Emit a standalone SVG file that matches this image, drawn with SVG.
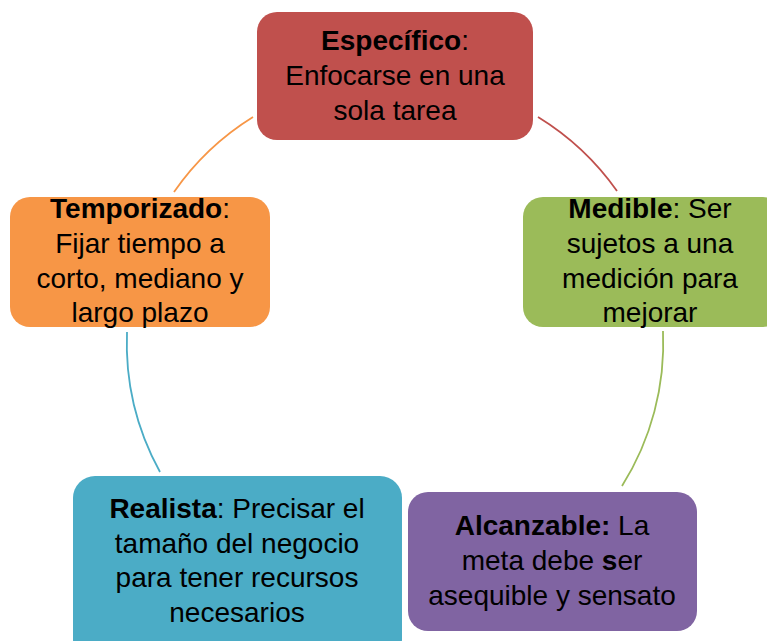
<svg xmlns="http://www.w3.org/2000/svg" width="767" height="641" viewBox="0 0 767 641">
<style>
.t{font-family:"Liberation Sans",Arial,sans-serif;font-size:28px;fill:#000;text-anchor:middle}
.b{font-weight:bold}
.arc{fill:none;stroke-width:1.8}
</style>
<rect width="767" height="641" fill="#fff"/>
<g id="connectors">
<path class="arc" stroke="#C0504D" d="M 538 117 A 268 268 0 0 1 617 191"/>
<path class="arc" stroke="#9BBB59" d="M 663 331 A 268 268 0 0 1 622 486"/>
<path class="arc" stroke="#4BACC6" d="M 160 472 A 268 268 0 0 1 127 332"/>
<path class="arc" stroke="#F79646" d="M 174 192 A 268 268 0 0 1 253 117"/>
</g>
<g id="especifico">
<rect x="257" y="12" width="276" height="128" rx="20" fill="#C0504D"/>
<text class="t" x="395" y="50"><tspan class="b">Específico</tspan>:</text>
<text class="t" x="395" y="85">Enfocarse en una</text>
<text class="t" x="395" y="120">sola tarea</text>
</g>
<g id="medible">
<rect x="523" y="197" width="260" height="130" rx="20" fill="#9BBB59"/>
<text class="t" x="650" y="218"><tspan class="b">Medible</tspan>: Ser</text>
<text class="t" x="650" y="253">sujetos a una</text>
<text class="t" x="650" y="288">medición para</text>
<text class="t" x="650" y="322">mejorar</text>
</g>
<g id="alcanzable">
<rect x="408" y="492" width="289" height="139" rx="20" fill="#8064A2"/>
<text class="t" x="552" y="535"><tspan class="b">Alcanzable:</tspan> La</text>
<text class="t" x="552" y="570">meta debe <tspan class="b">s</tspan>er</text>
<text class="t" x="552" y="605">asequible y sensato</text>
</g>
<g id="realista">
<rect x="73" y="476" width="329" height="185" rx="22" fill="#4BACC6"/>
<text class="t" x="237" y="518"><tspan class="b">Realista</tspan>: Precisar el</text>
<text class="t" x="237" y="553">tamaño del negocio</text>
<text class="t" x="237" y="587">para tener recursos</text>
<text class="t" x="237" y="622">necesarios</text>
</g>
<g id="temporizado">
<rect x="10" y="197" width="260" height="130" rx="20" fill="#F79646"/>
<text class="t" x="140" y="218"><tspan class="b">Temporizado</tspan>:</text>
<text class="t" x="140" y="253">Fijar tiempo a</text>
<text class="t" x="140" y="288">corto, mediano y</text>
<text class="t" x="140" y="322">largo plazo</text>
</g>
</svg>
